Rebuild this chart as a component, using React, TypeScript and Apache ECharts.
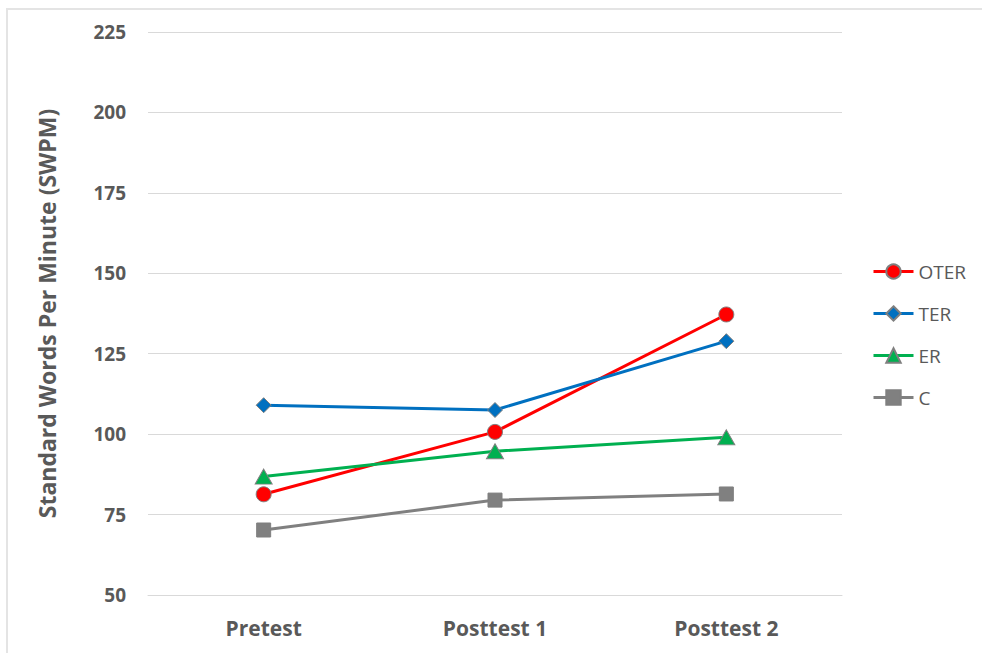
import React, { useEffect, useRef } from "react";
import * as echarts from "echarts";

// Test sessions along the x-axis
const sessions = ["Pretest", "Posttest 1", "Posttest 2"];

// Standard words per minute for each group
const oterValues = [81.3, 100.7, 137.2];
const terValues = [109.0, 107.5, 128.9];
const erValues = [86.8, 94.7, 99.0];
const cValues = [70.2, 79.5, 81.4];

const yMin = 50;
const yMax = 225;
const yStep = 25;

const FONT = "'Open Sans', 'Liberation Sans', sans-serif";
const TEXT_GREY = "#595959";
const MARKER_EDGE = "#7f7f7f";

export default function App() {
  const ref = useRef<HTMLDivElement>(null);

  useEffect(() => {
    if (!ref.current) return;
    const chart = echarts.init(ref.current, null, { renderer: "svg" });

    const makeSeries = (
      name: string,
      data: number[],
      color: string,
      symbol: string,
      symbolSize: number | number[]
    ) => ({
      name,
      type: "line",
      data,
      symbol,
      symbolSize,
      showAllSymbol: true,
      lineStyle: { color, width: 3 },
      itemStyle: { color, borderColor: MARKER_EDGE, borderWidth: 1 },
      emphasis: { disabled: true },
    });

    chart.setOption({
      animation: false,
      backgroundColor: "#ffffff",
      textStyle: { fontFamily: FONT },
      graphic: [
        {
          type: "rect",
          shape: { x: 7, y: 9, width: 1000, height: 680 },
          style: { fill: "none", stroke: "#e4e4e4", lineWidth: 2 },
          silent: true,
          z: -1,
        },
      ],
      grid: {
        left: 148,
        right: 140,
        top: 32,
        bottom: 58,
        containLabel: false,
        outerBoundsMode: "none",
      },
      legend: {
        orient: "vertical",
        left: 872,
        top: 262,
        padding: 0,
        itemWidth: 40,
        itemHeight: 18,
        itemGap: 23,
        lineStyle: { width: 3 },
        textStyle: { color: TEXT_GREY, fontSize: 19, fontFamily: FONT },
        data: ["OTER", "TER", "ER", "C"],
      },
      xAxis: {
        type: "category",
        data: sessions,
        boundaryGap: true,
        axisLine: { show: true, lineStyle: { color: "#d9d9d9", width: 1 } },
        axisTick: { show: false },
        axisLabel: {
          color: TEXT_GREY,
          fontSize: 21,
          fontWeight: "bold",
          fontFamily: FONT,
          margin: 22,
        },
      },
      yAxis: {
        type: "value",
        min: yMin,
        max: yMax,
        interval: yStep,
        name: "Standard Words Per Minute (SWPM)",
        nameLocation: "middle",
        nameGap: 90,
        nameTextStyle: {
          color: TEXT_GREY,
          fontSize: 23,
          fontWeight: "bold",
          fontFamily: FONT,
        },
        axisLine: { show: false },
        axisTick: { show: false },
        splitLine: { lineStyle: { color: "#d9d9d9", width: 1 } },
        axisLabel: {
          color: TEXT_GREY,
          fontSize: 19,
          fontWeight: "bold",
          fontFamily: FONT,
          margin: 22,
        },
      },
      series: [
        makeSeries("OTER", oterValues, "#ff0000", "circle", 15),
        makeSeries("TER", terValues, "#0070c0", "diamond", 15),
        makeSeries("ER", erValues, "#00b050", "triangle", [17, 15]),
        makeSeries("C", cValues, "#808080", "rect", 14),
      ],
    });

    return () => chart.dispose();
  }, []);

  return (
    <div
      ref={ref}
      style={{ position: "absolute", left: 0, top: 0, width: 982, height: 653 }}
    />
  );
}
